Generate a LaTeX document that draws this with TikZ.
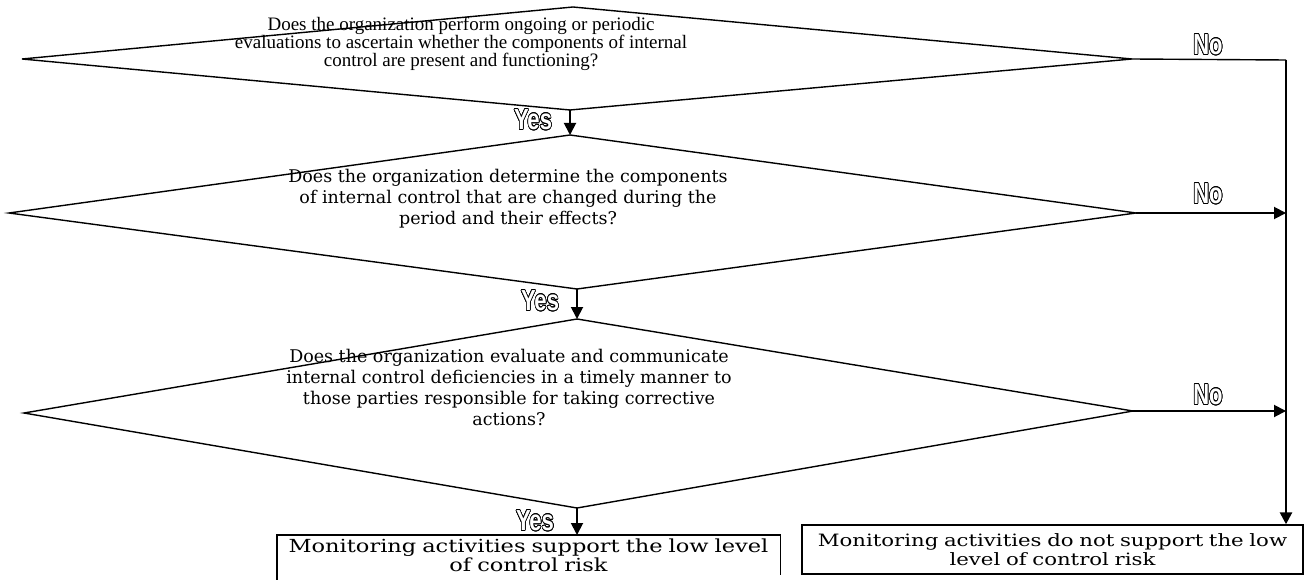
\documentclass[tikz,border=0pt]{standalone}
\usepackage{fontspec}
\setmainfont{Liberation Serif}
\newfontfamily\camfont{DejaVu Serif}
\newfontfamily\camwide{DejaVu Serif}[FakeStretch=1.25]
\newfontfamily\ynfont{Liberation Sans}
\usepackage{contour}
\contourlength{0.9pt}
\usetikzlibrary{arrows.meta}
\newcommand{\ynlabel}[1]{\scalebox{0.76}[1]{\contour{black}{\textcolor{white}{#1}}}}
\begin{document}
\begin{tikzpicture}[x=1pt,y=-1pt,
  line/.style={line width=1.4pt},
  arr/.style={line width=1.9pt,-{Triangle[length=12pt,width=12pt]}},
  q1/.style={align=center,font=\fontsize{19}{18}\selectfont,inner sep=0pt},
  q2/.style={align=center,font=\camfont\fontsize{17.5}{21}\selectfont,inner sep=0pt},
  boxtext/.style={align=center,inner xsep=0pt,inner ysep=4pt},
  outbox/.style={draw,line width=1.4pt,align=center,inner sep=0pt},
  yn/.style={font=\ynfont\bfseries\fontsize{29}{29}\selectfont,inner sep=0pt}]
\useasboundingbox (0,0) rectangle (1314,580);
% diamonds
\coordinate (d1l) at (22,59);
\coordinate (d1t) at (573,7);
\coordinate (d1r) at (1132,59);
\coordinate (d1b) at (570,110);
\coordinate (d2l) at (9,213);
\coordinate (d2t) at (570,135);
\coordinate (d2r) at (1136,213);
\coordinate (d2b) at (577,289);
\coordinate (d3l) at (24,413);
\coordinate (d3t) at (577,319);
\coordinate (d3r) at (1133,411);
\coordinate (d3b) at (577,508);
\draw[line] (d1l)--(d1t)--(d1r)--(d1b)--cycle;
\draw[line] (d2l)--(d2t)--(d2r)--(d2b)--cycle;
\draw[line] (d3l)--(d3t)--(d3r)--(d3b)--cycle;
\node[q1] (t1) at (461,44) {Does the organization perform ongoing or periodic\\evaluations to ascertain whether the components of internal\\control are present and functioning?};
\node[q2] (t2) at (508,199) {Does the organization determine the components\\of internal control that are changed during the\\period and their effects?};
\node[q2] (t3) at (509,387) {Does the organization evaluate and communicate\\internal control deficiencies in a timely manner to\\those parties responsible for taking corrective\\actions?};
% result boxes
\node[boxtext,anchor=north,text width=503pt,font=\camwide\fontsize{18}{19}\selectfont] (b1) at (528.5,535) {Monitoring activities support the low level\\of control risk};
\draw[line] (b1.south west) ++(0,-20pt) |- (b1.north east) -- ++(0,-40pt);
\node[outbox,text width=501pt,minimum height=49pt,font=\camwide\fontsize{17}{19}\selectfont] (b2) at (1052.5,549.5) {Monitoring activities do not support the low\\level of control risk};
% connectors
\coordinate (rc) at (1286,60);
\draw[line] (d1r) -- (rc);
\draw[arr,line width=2.6pt] (rc) -- (rc |- b2.north);
\draw[arr] (d2r) -- (d2r -| rc);
\draw[arr] (d3r) -- (d3r -| rc);
\draw[arr] (d1b) -- (d2t);
\draw[arr] (d2b) -- (d3t);
\draw[arr] (d3b) -- (d3b |- b1.north);
% labels
\node[yn] (y1) at (533,120) {\ynlabel{Yes}};
\node[yn] (y2) at (540,301) {\ynlabel{Yes}};
\node[yn] (y3) at (535,521) {\ynlabel{Yes}};
\node[yn] (n1) at (1208,45) {\ynlabel{No}};
\node[yn] (n2) at (1208,194) {\ynlabel{No}};
\node[yn] (n3) at (1208,395) {\ynlabel{No}};
\end{tikzpicture}
\end{document}
